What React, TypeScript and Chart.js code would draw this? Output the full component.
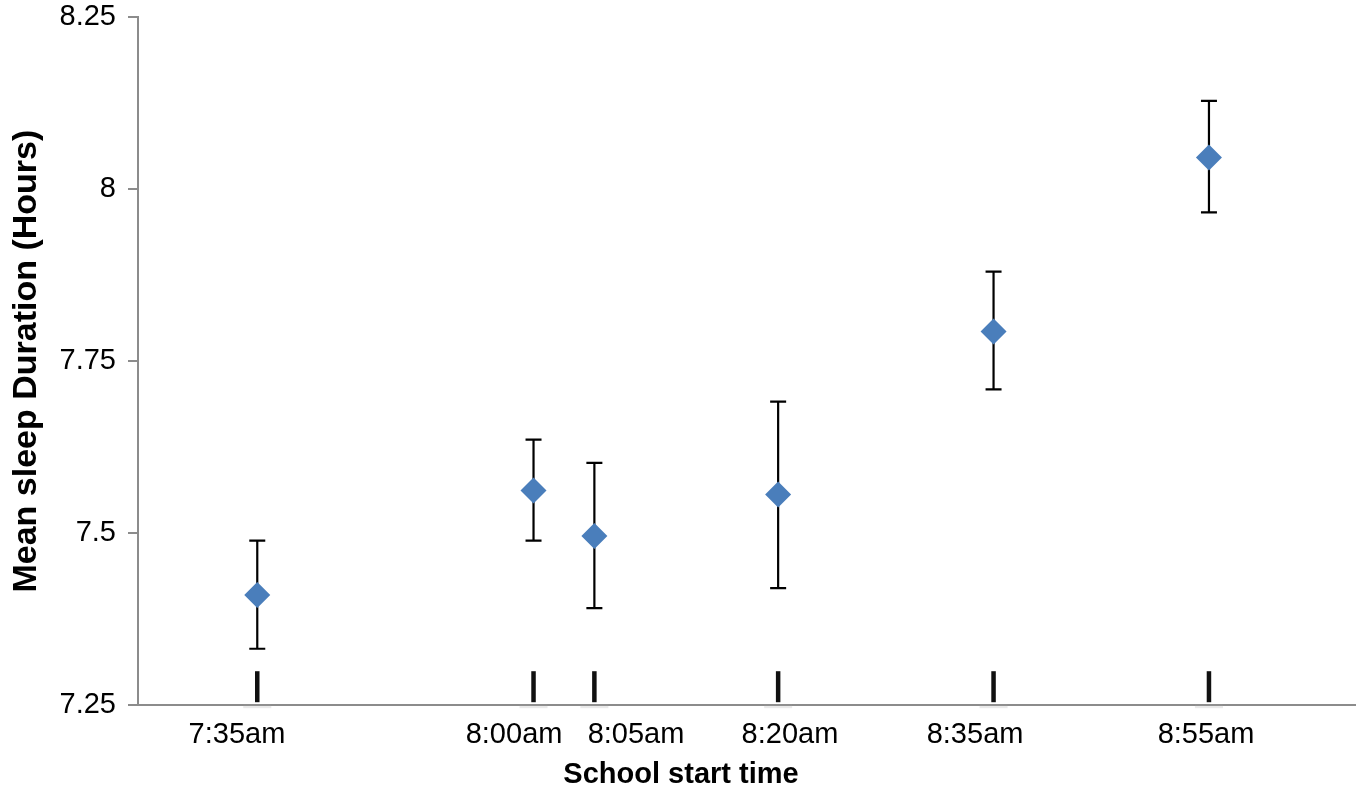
import React, { useEffect, useRef } from "react";
import { Chart, registerables } from "chart.js";

Chart.register(...registerables);

// ---- data ----
const startTimes = ["7:35am", "8:00am", "8:05am", "8:20am", "8:35am", "8:55am"];
// horizontal position of each school's marker along the axis (axis units 0..100, as drawn)
const slotPositions = [9.8, 32.5, 37.5, 52.6, 70.3, 88.0];
// horizontal position of each start-time label (axis units 0..100, as drawn)
const labelPositions = [8.13, 30.9, 40.92, 53.57, 68.78, 87.76];
const meanSleep = [7.41, 7.562, 7.496, 7.556, 7.793, 8.046];
const errLow = [7.332, 7.489, 7.391, 7.42, 7.709, 7.966];
const errHigh = [7.489, 7.636, 7.602, 7.691, 7.88, 8.128];
const yTicks = [7.25, 7.5, 7.75, 8, 8.25];

const FONT = "'Liberation Sans', Arial, Helvetica, sans-serif";
const AXIS_GRAY = "#8c8c8c";
const MARKER_BLUE = "#4a7ebb";

const errorBarsPlugin = {
  id: "errorBars",
  beforeDatasetsDraw(chart: any) {
    const { ctx, scales } = chart;
    const x = scales.x;
    const y = scales.y;
    ctx.save();
    ctx.strokeStyle = "#000";
    ctx.lineWidth = 2.2;
    const cap = 8;
    for (let i = 0; i < slotPositions.length; i++) {
      const px = x.getPixelForValue(slotPositions[i]);
      const yl = y.getPixelForValue(errLow[i]);
      const yh = y.getPixelForValue(errHigh[i]);
      ctx.beginPath();
      ctx.moveTo(px, yh);
      ctx.lineTo(px, yl);
      ctx.moveTo(px - cap, yh);
      ctx.lineTo(px + cap, yh);
      ctx.moveTo(px - cap, yl);
      ctx.lineTo(px + cap, yl);
      ctx.stroke();
    }
    ctx.restore();
  },
};

const slotMarksPlugin = {
  id: "slotMarks",
  afterDraw(chart: any) {
    const { ctx, scales, chartArea } = chart;
    const x = scales.x;
    ctx.save();
    for (let i = 0; i < slotPositions.length; i++) {
      const px = x.getPixelForValue(slotPositions[i]);
      ctx.fillStyle = "rgba(160,160,160,0.22)";
      ctx.fillRect(px - 14, chartArea.bottom - 1, 28, 4);
      ctx.strokeStyle = "#111";
      ctx.lineWidth = 4.5;
      ctx.beginPath();
      ctx.moveTo(px, chartArea.bottom - 34);
      ctx.lineTo(px, chartArea.bottom - 3);
      ctx.stroke();
    }
    ctx.restore();
  },
};

export default function App() {
  const canvasRef = useRef<HTMLCanvasElement | null>(null);

  useEffect(() => {
    document.body.style.margin = "0";
    const canvas = canvasRef.current;
    if (!canvas) return;
    const chart = new Chart(canvas, {
      type: "scatter",
      data: {
        datasets: [
          {
            label: "Mean sleep duration",
            data: slotPositions.map((xv, i) => ({ x: xv, y: meanSleep[i] })),
            pointStyle: "rectRot",
            pointRadius: 13,
            pointHoverRadius: 13,
            backgroundColor: MARKER_BLUE,
            borderColor: MARKER_BLUE,
            borderWidth: 0,
            showLine: false,
          },
        ],
      },
      options: {
        animation: false,
        responsive: false,
        maintainAspectRatio: false,
        layout: { autoPadding: false, padding: { top: 17, right: 7, left: 7, bottom: 0 } },
        plugins: {
          legend: { display: false },
          tooltip: { enabled: false },
          title: {
            display: true,
            position: "bottom",
            text: "School start time",
            color: "#000",
            font: { family: FONT, size: 29, weight: "bold" },
            padding: { top: 0, bottom: 2 },
          },
        },
        scales: {
          x: {
            type: "linear",
            min: 0,
            max: 100,
            afterBuildTicks: (s: any) => {
              s.ticks = labelPositions.map((v) => ({ value: v }));
            },
            afterFit: (s: any) => {
              s.height = 52;
              s.paddingLeft = 0;
              s.paddingRight = 0;
            },
            ticks: {
              autoSkip: false,
              maxRotation: 0,
              minRotation: 0,
              padding: 12,
              color: "#000",
              font: { family: FONT, size: 29 },
              callback: (_v: any, i: number) => startTimes[i],
            },
            grid: { display: true, drawOnChartArea: false, drawTicks: false },
            border: { display: true, color: AXIS_GRAY, width: 2 },
          },
          y: {
            type: "linear",
            min: 7.25,
            max: 8.25,
            afterBuildTicks: (s: any) => {
              s.ticks = yTicks.map((v) => ({ value: v }));
            },
            afterFit: (s: any) => {
              s.width = 131;
              s.paddingTop = 0;
              s.paddingBottom = 0;
            },
            ticks: {
              padding: 12,
              color: "#000",
              font: { family: FONT, size: 29 },
              callback: (v: any) => String(v),
            },
            grid: {
              display: true,
              drawOnChartArea: false,
              drawTicks: true,
              tickLength: 10,
              color: AXIS_GRAY,
              lineWidth: 2,
            },
            border: { display: true, color: AXIS_GRAY, width: 2 },
            title: {
              display: true,
              text: "Mean sleep Duration (Hours)",
              color: "#000",
              font: { family: FONT, size: 34, weight: "bold" },
              padding: { top: -1, bottom: 0 },
            },
          },
        },
      } as any,
      plugins: [errorBarsPlugin, slotMarksPlugin],
    });
    return () => chart.destroy();
  }, []);

  return (
    <div style={{ position: "absolute", left: 0, top: 0, width: 1362, height: 794, background: "#fff" }}>
      <canvas ref={canvasRef} width={1362} height={794} />
    </div>
  );
}
